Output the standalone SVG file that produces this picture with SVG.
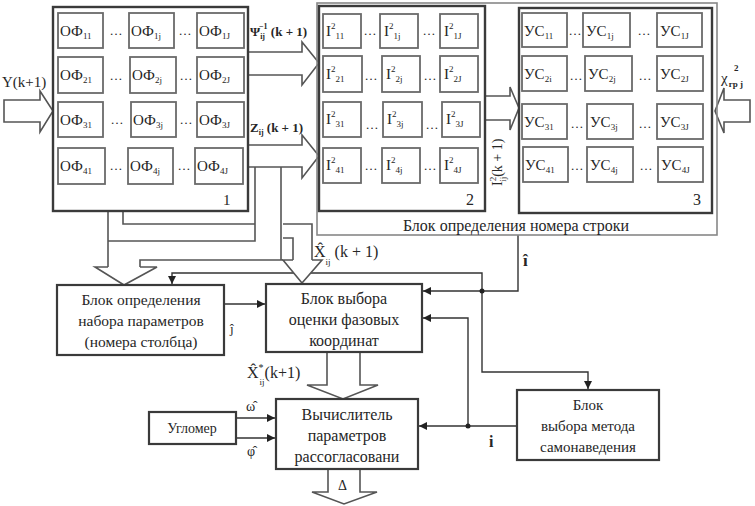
<svg xmlns="http://www.w3.org/2000/svg" width="755" height="506" viewBox="0 0 755 506" font-family="'Liberation Serif', serif">
<defs>
<marker id="ah" markerUnits="userSpaceOnUse" markerWidth="9" markerHeight="8" refX="8" refY="4" orient="auto">
<path d="M0,0 L8,4 L0,8 Z" fill="#222"/>
</marker>
</defs>
<style>
text{fill:#262626}
.c{fill:#fff;stroke:#6a6a6a;stroke-width:1.8}
.b{fill:none;stroke:#3a3a3a;stroke-width:2.4}
.bb{fill:#fff;stroke:#3a3a3a;stroke-width:2.2}
.ln{fill:none;stroke:#333;stroke-width:1.4}
.p{fill:none;stroke:#555;stroke-width:1.6}
.ha{fill:#fff;stroke:#555;stroke-width:1.6}
.ce{font-size:15px}
.s{font-size:9px}
.d{font-size:13px;fill:#555}
</style>
<rect width="755" height="506" fill="#fff"/>

<g id="connectors">
<path class="ln" d="M224,304 H265" marker-end="url(#ah)"/>
<path class="ln" d="M518,235 V291 H423" marker-end="url(#ah)"/>
<path class="ln" d="M482,291 V273 H172 V284" marker-end="url(#ah)"/>
<path class="ln" d="M482,291 V372 H588 V389" marker-end="url(#ah)"/>
<path class="ln" d="M468,426 V318 H423" marker-end="url(#ah)"/>
<path class="ln" d="M517,426 H419" marker-end="url(#ah)"/>
<path class="ln" d="M236,418 H275" marker-end="url(#ah)"/>
<path class="ln" d="M236,438 H275" marker-end="url(#ah)"/>
<circle cx="482" cy="291" r="2.5" fill="#222"/>
<circle cx="468" cy="426" r="2.5" fill="#222"/>
<path class="p" d="M108,211 V267"/>
<path class="p" d="M123,211 V224 H255"/>
<path class="p" d="M108,241 H255 V167"/>
<path class="p" d="M281,167 V260"/>
<path class="p" d="M140,267 V260 H283"/>
<path class="p" d="M283,224 H312 V260"/>
<path class="p" d="M283,238 H293 V260"/>
<path class="ha" d="M4,100 H40 V91 L53,111 L40,132 V122 H4 Z"/>
<path class="ha" d="M248,52 H302 V42 L319,63 L302,85 V75 H248"/>
<path class="ha" d="M248,145 H302 V135 L319,156 L302,178 V167 H248"/>
<path class="ha" d="M486,96 H510 V87 L519,108 L510,130 V120 H486"/>
<path class="ha" d="M750,100 H724 V88 L715,111 L724,133 V122 H750 Z"/>
<path class="ha" d="M108,267 H95 L124,285 L157,267 H140"/>
<path class="ha" d="M293,260 H283 L302,283 L322,260 H312"/>
<path class="ha" d="M327,353 V385 H307 L343,399 L378,385 H360 V353"/>
<path class="ha" d="M328,470 V492 H312 L344,504 L377,492 H360 V470"/>
</g>

<g id="blockRow">
<rect x="317" y="3" width="400" height="232" fill="none" stroke="#888" stroke-width="1.6"/>
<text x="516" y="231" font-size="16" text-anchor="middle">Блок определения номера строки</text>
</g>

<g id="block1">
<rect class="b" x="53" y="7" width="195" height="204"/>
<rect class="c" x="58" y="13" width="45" height="35"/><rect class="c" x="129" y="13" width="45" height="35"/><rect class="c" x="197" y="13" width="47" height="35"/>
<rect class="c" x="58" y="57" width="45" height="36"/><rect class="c" x="130" y="57" width="46" height="36"/><rect class="c" x="197" y="57" width="47" height="36"/>
<rect class="c" x="58" y="102" width="45" height="35"/><rect class="c" x="131" y="102" width="45" height="35"/><rect class="c" x="197" y="102" width="47" height="35"/>
<rect class="c" x="58" y="148" width="47" height="36"/><rect class="c" x="128" y="148" width="45" height="36"/><rect class="c" x="195" y="148" width="48" height="36"/>
<g class="ce">
<text x="60" y="36">ОФ<tspan class="s" dy="3">11</tspan></text><text x="131" y="36">ОФ<tspan class="s" dy="3">1j</tspan></text><text x="199" y="36">ОФ<tspan class="s" dy="3">1J</tspan></text>
<text x="60" y="80">ОФ<tspan class="s" dy="3">21</tspan></text><text x="132" y="80">ОФ<tspan class="s" dy="3">2j</tspan></text><text x="199" y="80">ОФ<tspan class="s" dy="3">2J</tspan></text>
<text x="60" y="125">ОФ<tspan class="s" dy="3">31</tspan></text><text x="133" y="125">ОФ<tspan class="s" dy="3">3j</tspan></text><text x="199" y="125">ОФ<tspan class="s" dy="3">3J</tspan></text>
<text x="60" y="171">ОФ<tspan class="s" dy="3">41</tspan></text><text x="130" y="171">ОФ<tspan class="s" dy="3">4j</tspan></text><text x="197" y="171">ОФ<tspan class="s" dy="3">4J</tspan></text>
</g>
<g class="d" text-anchor="middle">
<text x="116" y="35">…</text><text x="185" y="35">…</text>
<text x="116" y="80">…</text><text x="186" y="80">…</text>
<text x="117" y="124">…</text><text x="186" y="124">…</text>
<text x="116" y="170">…</text><text x="184" y="170">…</text>
</g>
<text x="223" y="205" font-size="15">1</text>
</g>

<g id="block2">
<rect class="b" x="319" y="6" width="166" height="205"/>
<rect class="c" x="323" y="14" width="38" height="34"/><rect class="c" x="380" y="14" width="38" height="34"/><rect class="c" x="440" y="14" width="38" height="34"/>
<rect class="c" x="323" y="56" width="39" height="36"/><rect class="c" x="382" y="56" width="38" height="36"/><rect class="c" x="440" y="56" width="38" height="36"/>
<rect class="c" x="323" y="102" width="38" height="35"/><rect class="c" x="383" y="102" width="39" height="35"/><rect class="c" x="442" y="102" width="38" height="35"/>
<rect class="c" x="323" y="148" width="38" height="35"/><rect class="c" x="382" y="148" width="38" height="35"/><rect class="c" x="440" y="148" width="38" height="35"/>
<g class="ce">
<text x="326" y="36">I<tspan class="s" dy="-7">2</tspan><tspan class="s" dy="10">11</tspan></text><text x="384" y="36">I<tspan class="s" dy="-7">2</tspan><tspan class="s" dy="10">1j</tspan></text><text x="444" y="36">I<tspan class="s" dy="-7">2</tspan><tspan class="s" dy="10">1J</tspan></text>
<text x="326" y="79">I<tspan class="s" dy="-7">2</tspan><tspan class="s" dy="10">21</tspan></text><text x="386" y="79">I<tspan class="s" dy="-7">2</tspan><tspan class="s" dy="10">2j</tspan></text><text x="444" y="79">I<tspan class="s" dy="-7">2</tspan><tspan class="s" dy="10">2J</tspan></text>
<text x="326" y="124">I<tspan class="s" dy="-7">2</tspan><tspan class="s" dy="10">31</tspan></text><text x="387" y="124">I<tspan class="s" dy="-7">2</tspan><tspan class="s" dy="10">3j</tspan></text><text x="446" y="124">I<tspan class="s" dy="-7">2</tspan><tspan class="s" dy="10">3J</tspan></text>
<text x="326" y="170">I<tspan class="s" dy="-7">2</tspan><tspan class="s" dy="10">41</tspan></text><text x="386" y="170">I<tspan class="s" dy="-7">2</tspan><tspan class="s" dy="10">4j</tspan></text><text x="444" y="170">I<tspan class="s" dy="-7">2</tspan><tspan class="s" dy="10">4J</tspan></text>
</g>
<g class="d" text-anchor="middle">
<text x="370" y="35">…</text><text x="429" y="35">…</text>
<text x="371" y="80">…</text><text x="430" y="80">…</text>
<text x="372" y="129">…</text><text x="432" y="129">…</text>
<text x="371" y="170">…</text><text x="430" y="170">…</text>
</g>
<text x="466" y="205" font-size="16">2</text>
</g>

<g id="block3">
<rect class="b" x="519" y="8" width="193" height="205"/>
<rect class="c" x="522" y="13" width="45" height="34"/><rect class="c" x="583" y="13" width="47" height="34"/><rect class="c" x="657" y="13" width="45" height="34"/>
<rect class="c" x="522" y="56" width="45" height="35"/><rect class="c" x="585" y="56" width="47" height="35"/><rect class="c" x="657" y="56" width="46" height="35"/>
<rect class="c" x="522" y="104" width="45" height="35"/><rect class="c" x="587" y="104" width="46" height="35"/><rect class="c" x="657" y="104" width="46" height="35"/>
<rect class="c" x="523" y="147" width="45" height="35"/><rect class="c" x="587" y="147" width="46" height="35"/><rect class="c" x="658" y="147" width="45" height="35"/>
<g class="ce">
<text x="524" y="36">УС<tspan class="s" dy="3">11</tspan></text><text x="586" y="36">УС<tspan class="s" dy="3">1j</tspan></text><text x="660" y="36">УС<tspan class="s" dy="3">1J</tspan></text>
<text x="524" y="79">УС<tspan class="s" dy="3">2i</tspan></text><text x="588" y="79">УС<tspan class="s" dy="3">2j</tspan></text><text x="660" y="79">УС<tspan class="s" dy="3">2J</tspan></text>
<text x="524" y="127">УС<tspan class="s" dy="3">31</tspan></text><text x="590" y="127">УС<tspan class="s" dy="3">3j</tspan></text><text x="660" y="127">УС<tspan class="s" dy="3">3J</tspan></text>
<text x="525" y="170">УС<tspan class="s" dy="3">41</tspan></text><text x="590" y="170">УС<tspan class="s" dy="3">4j</tspan></text><text x="661" y="170">УС<tspan class="s" dy="3">4J</tspan></text>
</g>
<g class="d" text-anchor="middle">
<text x="575" y="35">…</text><text x="644" y="35">…</text>
<text x="576" y="80">…</text><text x="645" y="80">…</text>
<text x="577" y="128">…</text><text x="645" y="128">…</text>
<text x="577" y="170">…</text><text x="646" y="170">…</text>
</g>
<text x="693" y="205" font-size="16">3</text>
</g>

<g id="paramBlock">
<rect class="bb" x="57" y="285" width="167" height="70"/>
<g font-size="15.5" text-anchor="middle">
<text x="141" y="305">Блок определения</text>
<text x="141" y="326">набора параметров</text>
<text x="141" y="347">(номера столбца)</text>
</g>
</g>
<g id="selectBlock">
<rect class="bb" x="266" y="284" width="156" height="68"/>
<g font-size="16" text-anchor="middle">
<text x="344" y="304">Блок выбора</text>
<text x="344" y="325">оценки фазовых</text>
<text x="344" y="346">координат</text>
</g>
</g>
<g id="uglomer">
<rect class="bb" x="149" y="412" width="87" height="32"/>
<text x="192" y="433" font-size="14" text-anchor="middle">Угломер</text>
</g>
<g id="calcBlock">
<rect class="bb" x="276" y="399" width="142" height="70"/>
<g font-size="16" text-anchor="middle">
<text x="347" y="420">Вычислитель</text>
<text x="347" y="441">параметров</text>
<text x="347" y="462">рассогласовани</text>
</g>
</g>
<g id="methodBlock">
<rect class="bb" x="517" y="390" width="142" height="70"/>
<g font-size="15" text-anchor="middle">
<text x="588" y="410">Блок</text>
<text x="588" y="431">выбора метода</text>
<text x="588" y="452">самонаведения</text>
</g>
</g>

<g id="labels">
<text x="2" y="87" font-size="15">Y(k+1)</text>
<text x="250" y="36" font-size="13" font-weight="bold">Ψ<tspan font-size="8" dy="3">ij</tspan><tspan font-size="8" dx="-6" dy="-10">−1</tspan><tspan dy="7"> (k + 1)</tspan></text>
<text x="250" y="132" font-size="13" font-weight="bold">Z<tspan font-size="8" dy="3">ij</tspan><tspan dy="-3"> (k + 1)</tspan></text>
<text transform="translate(502,186) rotate(-90)" font-size="14">I<tspan font-size="9" dy="-6">2</tspan><tspan font-size="9" dx="-5" dy="10">ij</tspan><tspan dy="-4">(k + 1)</tspan></text>
<text x="721" y="83" font-size="15">χ<tspan font-size="9" font-weight="bold" dx="1" dy="4">гр j</tspan></text>
<text x="734" y="71" font-size="9" font-weight="bold">2</text>
<text x="314" y="257" font-size="16">X̂<tspan font-size="9" dy="8">ij</tspan><tspan dy="-8"> (k + 1)</tspan></text>
<text x="247" y="378" font-size="16">X̂<tspan font-size="10" dy="-7">*</tspan><tspan font-size="9" dx="-4" dy="14">ij</tspan><tspan dy="-7">(k+1)</tspan></text>
<text x="230" y="333" font-size="13">ĵ</text>
<text x="523" y="266" font-size="17" font-weight="bold">î</text>
<text x="489" y="447" font-size="16" font-weight="bold">i</text>
<text x="246" y="411" font-size="14">ω̂</text>
<text x="247" y="456" font-size="14">φ̂</text>
<text x="338" y="490" font-size="14">Δ</text>
</g>
</svg>
